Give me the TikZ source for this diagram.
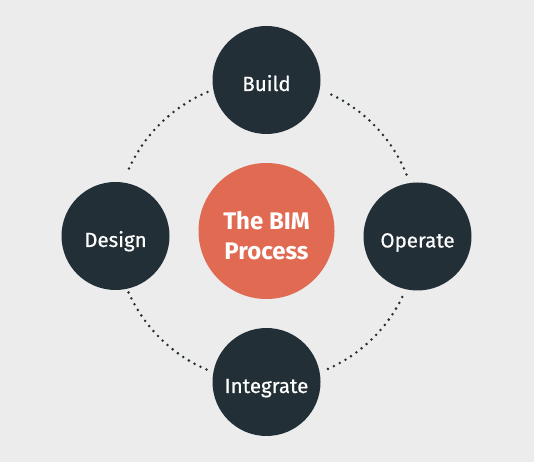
\documentclass[tikz,border=0pt]{standalone}
\usepackage{fontspec}
\setmainfont{Fira Sans}
\newfontfamily\medfont{Fira Sans}[FakeBold=0.6]
\definecolor{bg}{HTML}{ECECEC}
\definecolor{slate}{HTML}{222F36}
\definecolor{coral}{HTML}{E06A52}
\begin{document}
\begin{tikzpicture}[x=1pt,y=1pt,line cap=round,
    stage/.style={circle,fill=slate,minimum size=108pt,inner sep=0pt,text=white,
        text height=22pt,text depth=0pt,font=\medfont\fontsize{20.5}{24}\selectfont},
    core/.style={circle,fill=coral,minimum size=136pt,inner sep=0pt},
    dotline/.style={draw=slate,line width=2.8pt,dash pattern=on 0pt off 6.6pt}]
    \fill[bg] (0,0) rectangle (534,462);
    \coordinate (hub) at (266.5,231);
    % dotted ring between the stages
    \draw[dotline] (hub) ++(22:151) arc[start angle=22,end angle=67,radius=151];
    \draw[dotline] (hub) ++(113:151) arc[start angle=113,end angle=158,radius=151];
    \draw[dotline] (hub) ++(204:151) arc[start angle=204,end angle=247,radius=151];
    \draw[dotline] (hub) ++(294:151) arc[start angle=294,end angle=336,radius=151];
    \node[core] (bim) at (hub) {};
    \node[text=white,align=center,font=\fontsize{24}{30}\selectfont\bfseries]
        (bimtext) at ([yshift=-5pt]bim.center) {The BIM\\Process};
    \node[stage] (build) at (266.5,382) {Build};
    \node[stage] (design) at (115.5,226) {Design};
    \node[stage] (operate) at (417.5,225.5) {Operate};
    \node[stage] (integrate) at (266.5,80) {Integrate};
\end{tikzpicture}
\end{document}
